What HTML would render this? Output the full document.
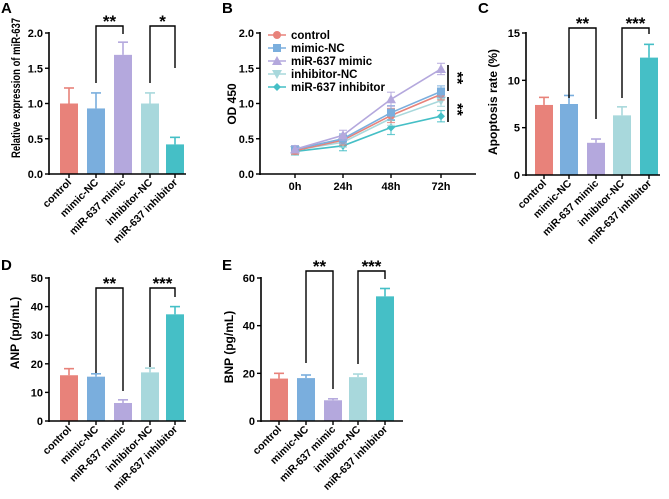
<!DOCTYPE html>
<html><head><meta charset="utf-8"><style>
html,body{margin:0;padding:0;background:#fff;}
svg{display:block;font-family:"Liberation Sans",Arial,sans-serif;font-weight:bold;}
</style></head><body>
<svg id="fig" width="669" height="499" viewBox="0 0 669 499" xmlns="http://www.w3.org/2000/svg"></svg>
<script>
const groups = ["control","mimic-NC","miR-637 mimic","inhibitor-NC","miR-637 inhibitor"];
const colors = ["#E8827A","#7AAEDD","#B4A8DD","#A8D8DC","#45BFC6"];
// Panel A
const aValues = [1.0,0.93,1.69,1.0,0.42];
const aErrors = [0.22,0.22,0.18,0.15,0.10];
const aTicks = [0,0.5,1.0,1.5,2.0];
const aTickLabels = ["0.0","0.5","1.0","1.5","2.0"];
// Panel B
const bTimes = ["0h","24h","48h","72h"];
const bControl = [0.33,0.48,0.83,1.13];
const bMimicNC = [0.35,0.50,0.87,1.17];
const bMimic = [0.35,0.55,1.06,1.49];
const bInhNC = [0.34,0.45,0.79,1.04];
const bInh = [0.32,0.40,0.66,0.82];
const bErr = [0.05,0.07,0.10,0.08];
const bTicks = [0,0.5,1.0,1.5,2.0];
const bTickLabels = ["0.0","0.5","1.0","1.5","2.0"];
// Panel C
const cValues = [7.4,7.5,3.4,6.3,12.4];
const cErrors = [0.8,0.9,0.4,0.9,1.4];
const cTicks = [0,5,10,15];
const cTickLabels = ["0","5","10","15"];
// Panel D
const dValues = [16.0,15.5,6.3,17.0,37.3];
const dErrors = [2.3,1.0,1.1,1.5,2.7];
const dTicks = [0,10,20,30,40,50];
const dTickLabels = ["0","10","20","30","40","50"];
// Panel E
const eValues = [17.8,18.0,8.7,18.4,52.3];
const eErrors = [2.2,1.3,0.6,1.3,3.3];
const eTicks = [0,20,40,60];
const eTickLabels = ["0","20","40","60"];

const svg = document.getElementById('fig');
const NS = "http://www.w3.org/2000/svg";
function el(tag, attrs, parent){
  const e = document.createElementNS(NS, tag);
  for (const k in attrs) e.setAttribute(k, attrs[k]);
  (parent||svg).appendChild(e);
  return e;
}
function txt(s, attrs, parent){ const t = el('text', attrs, parent); t.textContent = s; return t; }

function panelLabel(s, x, y){
  const t = txt(s, {x:x, y:y, 'font-size':15, fill:'#000'});
  
  
}

function barPanel(cfg){
  const g = el('g', {});
  
  
  const y = v => cfg.y0 - (v - 0) / cfg.max * (cfg.y0 - cfg.yTop);
  cfg.values.forEach((v,i)=>{
    const cx = cfg.xs[i];
    const b = el('rect', {x:cx-9, y:y(v), width:18, height:cfg.y0-y(v), fill:colors[i]}, g);
    
    
    const top = y(v + cfg.errors[i]);
    el('line', {x1:cx, x2:cx, y1:y(v), y2:top, stroke:colors[i], 'stroke-width':1.6}, g);
    el('line', {x1:cx-5, x2:cx+5, y1:top, y2:top, stroke:colors[i], 'stroke-width':1.6}, g);
  });
  const ya = el('line', {x1:cfg.ax, x2:cfg.ax, y1:cfg.yTop-1, y2:cfg.y0+1, stroke:'#000', 'stroke-width':1.6}, g);
   
  const xa = el('line', {x1:cfg.ax, x2:cfg.axEnd, y1:cfg.y0, y2:cfg.y0, stroke:'#000', 'stroke-width':1.6}, g);
   
  cfg.ticks.forEach((t,i)=>{
    el('line', {x1:cfg.ax-4, x2:cfg.ax, y1:y(t), y2:y(t), stroke:'#000', 'stroke-width':1.4}, g);
    const tl = txt(cfg.tickLabels[i], {x:cfg.ax-6, y:y(t)+4, 'font-size':11, 'text-anchor':'end'}, g);
     
  });
  groups.forEach((n,i)=>{
    const cx = cfg.xs[i];
    el('line', {x1:cx, x2:cx, y1:cfg.y0, y2:cfg.y0+4, stroke:'#000', 'stroke-width':1.4}, g);
    const tl = txt(n, {x:cx+3, y:cfg.y0+9, 'font-size':10.5, 'text-anchor':'end', transform:`rotate(-45 ${cx+3} ${cfg.y0+9})`}, g);
     
  });
  const ta = {x:0, y:0, 'font-size':cfg.titleSize||12, 'text-anchor':'middle', transform:`translate(${cfg.titleX} ${cfg.titleY}) rotate(-90)`};
  if (cfg.titleLen) { ta.textLength = cfg.titleLen; ta.lengthAdjust = 'spacingAndGlyphs'; }
  const tt = txt(cfg.title, ta, g);
   
  cfg.brackets.forEach(bk=>{
    const [i1,i2,yl,yr,yt,stars] = bk;
    const x1 = cfg.xs[i1], x2 = cfg.xs[i2];
    const p = el('polyline', {points:`${x1},${yl} ${x1},${yt} ${x2},${yt} ${x2},${yr}`, fill:'none', stroke:'#000', 'stroke-width':1.4}, g);
     
    const s = txt(stars, {x:(x1+x2)/2, y:yt+1, 'font-size':17, 'text-anchor':'middle'}, g);
     
  });
}

panelLabel('A', 1, 13);
barPanel({name:'panel-a-chart', values:aValues, errors:aErrors, xs:[69,96,123,150,175], ax:49, axEnd:186, y0:174, yTop:33, max:2.0,
  ticks:aTicks, tickLabels:aTickLabels, title:'Relative expression of miR-637', titleX:20, titleY:88, titleSize:11.5, titleLen:140,
  brackets:[[1,2,83,34,26,'**'],[3,4,83,68,26,'*']]});

panelLabel('C', 478, 13);
barPanel({name:'panel-c-chart', values:cValues, errors:cErrors, xs:[544,569,596,622,649], ax:526, axEnd:660, y0:175, yTop:33, max:15,
  ticks:cTicks, tickLabels:cTickLabels, title:'Apoptosis rate (%)', titleX:497, titleY:102,
  brackets:[[1,2,98,119,28,'**'],[3,4,98,34,28,'***']]});

panelLabel('D', 1, 270);
barPanel({name:'panel-d-chart', values:dValues, errors:dErrors, xs:[69,96,123,150,175], ax:49, axEnd:186, y0:421, yTop:278, max:50,
  ticks:dTicks, tickLabels:dTickLabels, title:'ANP (pg/mL)', titleX:19, titleY:333,
  brackets:[[1,2,373,391,288,'**'],[3,4,367,297,288,'***']]});

panelLabel('E', 222, 270);
barPanel({name:'panel-e-chart', values:eValues, errors:eErrors, xs:[279,306,333,358,385], ax:261, axEnd:403, y0:421, yTop:278, max:60,
  ticks:eTicks, tickLabels:eTickLabels, title:'BNP (pg/mL)', titleX:233, titleY:347,
  brackets:[[1,2,363,389,271,'**'],[3,4,364,279,271,'***']]});

panelLabel('B', 222, 13);
(function(){
  const g = el('g', {});
  
  
  const ax = 260, axEnd = 476, y0 = 174, yTop = 33, max = 2.0;
  const xs = [295,343,391,441];
  const y = v => y0 - v/max*(y0-yTop);
  const series = [bControl,bMimicNC,bMimic,bInhNC,bInh];
  const markers = ['circle','square','tri','tridown','diamond'];
  function marker(type, x, yy, c, parent){
    let m;
    if (type==='circle') m = el('circle', {cx:x, cy:yy, r:4, fill:c}, parent);
    else if (type==='square') m = el('rect', {x:x-4, y:yy-4, width:8, height:8, fill:c}, parent);
    else if (type==='tri') m = el('polygon', {points:`${x},${yy-5} ${x+5},${yy+4} ${x-5},${yy+4}`, fill:c}, parent);
    else if (type==='tridown') m = el('polygon', {points:`${x},${yy+5} ${x+5},${yy-4} ${x-5},${yy-4}`, fill:c}, parent);
    else m = el('polygon', {points:`${x},${yy-4} ${x+4},${yy} ${x},${yy+4} ${x-4},${yy}`, fill:c}, parent);
    return m;
  }
  const order = [4,3,0,1,2];
  order.forEach(si=>{
    const c = colors[si];
    const sg = el('g', {}, g);
    
    
    const pts = series[si].map((v,i)=>`${xs[i]},${y(v)}`).join(' ');
    el('polyline', {points:pts, fill:'none', stroke:c, 'stroke-width':1.6}, sg);
    series[si].forEach((v,i)=>{
      const e = bErr[i];
      el('line', {x1:xs[i], x2:xs[i], y1:y(v-e), y2:y(v+e), stroke:c, 'stroke-width':1.2, opacity:0.8}, sg);
      el('line', {x1:xs[i]-4, x2:xs[i]+4, y1:y(v+e), y2:y(v+e), stroke:c, 'stroke-width':1.2, opacity:0.8}, sg);
      el('line', {x1:xs[i]-4, x2:xs[i]+4, y1:y(v-e), y2:y(v-e), stroke:c, 'stroke-width':1.2, opacity:0.8}, sg);
      const m = marker(markers[si], xs[i], y(v), c, sg);
      
      
    });
  });
  const ya = el('line', {x1:ax, x2:ax, y1:yTop-1, y2:y0+1, stroke:'#000', 'stroke-width':1.6}, g);
   
  const xa = el('line', {x1:ax, x2:axEnd, y1:y0, y2:y0, stroke:'#000', 'stroke-width':1.6}, g);
   
  bTicks.forEach((t,i)=>{
    el('line', {x1:ax-4, x2:ax, y1:y(t), y2:y(t), stroke:'#000', 'stroke-width':1.4}, g);
    const tl = txt(bTickLabels[i], {x:ax-6, y:y(t)+4, 'font-size':11, 'text-anchor':'end'}, g);
     
  });
  bTimes.forEach((n,i)=>{
    el('line', {x1:xs[i], x2:xs[i], y1:y0, y2:y0+4, stroke:'#000', 'stroke-width':1.4}, g);
    const tl = txt(n, {x:xs[i], y:y0+16, 'font-size':11, 'text-anchor':'middle'}, g);
     
  });
  const tt = txt('OD 450', {x:0, y:0, 'font-size':12, 'text-anchor':'middle', transform:`translate(236 104) rotate(-90)`}, g);
   
  const lg = el('g', {}, g);
  
  
  groups.forEach((n,i)=>{
    const ly = 35 + i*13;
    const le = el('g', {}, lg);
    
    
    el('line', {x1:268, x2:286, y1:ly, y2:ly, stroke:colors[i], 'stroke-width':1.6}, le);
    marker(markers[i], 277, ly, colors[i], le);
    txt(n, {x:291, y:ly+4, 'font-size':11.5}, le);
  });
  [[65,91],[97,122]].forEach(r=>{
    const l = el('line', {x1:448, x2:448, y1:r[0], y2:r[1], stroke:'#000', 'stroke-width':1.6}, g);
     
    const cy = (r[0]+r[1])/2;
    const s = txt('**', {x:0, y:0, 'font-size':16, 'text-anchor':'middle', transform:`translate(452 ${cy}) rotate(90)`}, g);
     
  });
})();
</script>
</body></html>
